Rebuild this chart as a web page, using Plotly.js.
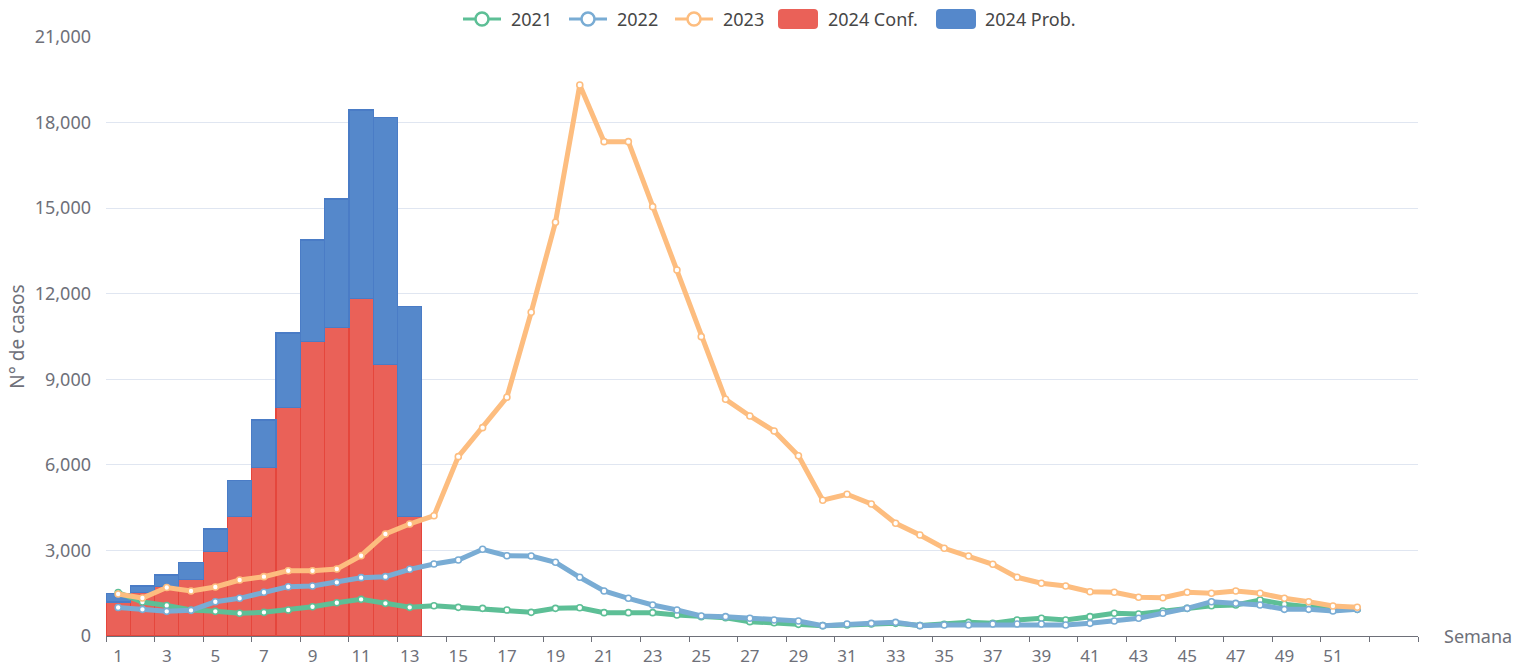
<!DOCTYPE html>
<html>
<head>
<meta charset="utf-8">
<script src="https://cdn.plot.ly/plotly-3.0.1.min.js"></script>
<style>html,body{margin:0;padding:0;background:#fff;}#chart{width:1522px;height:669px;}</style>
</head>
<body>
<div id="chart"></div>
<script>
// ---- data ----
const weeks = Array.from({length: 52}, (_, i) => i + 1);
const barWeeks = [1,2,3,4,5,6,7,8,9,10,11,12,13];
const conf2024 = [1190,1530,1730,1990,2960,4180,5920,8010,10320,10810,11820,9530,4180];
const prob2024 = [310,220,410,590,790,1270,1650,2610,3560,4510,6620,8640,7370];
const cases2021 = [1520,1190,1070,912,865,795,830,912,1028,1168,
                   1285,1145,1005,1063,1005,970,912,830,970,993,
                   818,818,818,736,678,643,503,467,409,362,
                   386,421,444,370,409,479,444,561,620,561,
                   678,795,771,877,970,1063,1087,1262,1111,1028,935,935];
const cases2022 = [1000,935,865,900,1200,1321,1532,1729,1753,1881,
                   2045,2080,2338,2524,2665,3039,2816,2805,2584,2058,
                   1578,1321,1087,912,701,678,620,561,526,362,
                   421,444,479,362,386,386,421,421,421,386,
                   444,526,620,795,970,1203,1145,1087,935,935,877,935];
const cases2023 = [1473,1330,1700,1578,1720,1963,2080,2290,2290,2349,
                   2816,3576,3927,4218,6287,7304,8368,11349,14504,19318,
                   17331,17331,15052,12832,10494,8298,7713,7187,6321,4760,
                   4968,4628,3951,3541,3075,2805,2514,2058,1848,1753,
                   1553,1532,1357,1343,1532,1497,1578,1497,1322,1203,1052,1006];
const xTickLabels = [1,3,5,7,9,11,13,15,17,19,21,23,25,27,29,31,33,35,37,39,41,43,45,47,49,51];
const xBoundaries = Array.from({length: 28}, (_, i) => 0.5 + 2 * i);
const seriesNames = ['2021', '2022', '2023', '2024 Conf.', '2024 Prob.'];
const seriesColors = ['#5dbf96', '#79acd4', '#fdbd7f', '#ea6158', '#5588cb'];

const FONT = '"Noto Sans", "DejaVu Sans", sans-serif';
const GRAY = '#6E7079';

// plot-area geometry (pixels) used for the hand-made legend
const W = 1522, H = 669, M = {l: 106, r: 104, t: 37, b: 33};
const PW = W - M.l - M.r, PH = H - M.t - M.b;
const px = v => (v - M.l) / PW;
const py = v => (H - M.b - v) / PH;

function lineTrace(i, y) {
  const c = seriesColors[i];
  return {
    type: 'scatter', mode: 'lines+markers', name: seriesNames[i], x: weeks, y: y,
    line: {color: c, width: 5},
    marker: {size: 6, color: '#ffffff', line: {color: c, width: 1.6}},
    hoverinfo: 'skip', showlegend: false
  };
}

const traces = [
  lineTrace(0, cases2021),
  lineTrace(1, cases2022),
  lineTrace(2, cases2023),
  {type: 'bar', name: seriesNames[3], x: barWeeks, y: conf2024, showlegend: false,
   marker: {color: seriesColors[3], line: {color: '#e5463c', width: 1.2}}, hoverinfo: 'skip'},
  {type: 'bar', name: seriesNames[4], x: barWeeks, y: prob2024, showlegend: false,
   marker: {color: seriesColors[4], line: {color: '#4a7cc6', width: 1.2}}, hoverinfo: 'skip'}
];

// ---- legend (top centre) ----
const LY = 19;
const legendItems = [
  {kind: 'line', sx: 463, tx: 509},
  {kind: 'line', sx: 569, tx: 615},
  {kind: 'line', sx: 675, tx: 721},
  {kind: 'rect', sx: 778, tx: 826},
  {kind: 'rect', sx: 936, tx: 983}
];
const shapes = [];
const annotations = [];
legendItems.forEach((it, i) => {
  const c = seriesColors[i];
  if (it.kind === 'line') {
    shapes.push({type: 'line', xref: 'paper', yref: 'paper',
      x0: px(it.sx), x1: px(it.sx + 38), y0: py(LY), y1: py(LY),
      line: {color: c, width: 3}});
    const cx = it.sx + 19, r = 6.5;
    shapes.push({type: 'circle', xref: 'paper', yref: 'paper',
      x0: px(cx - r), x1: px(cx + r), y0: py(LY + r), y1: py(LY - r),
      fillcolor: '#ffffff', line: {color: c, width: 2.5}});
  } else {
    const x0 = it.sx, x1 = it.sx + 40, y0 = LY - 10, y1 = LY + 10, rr = 4;
    const P = (a, b) => px(a) + ',' + py(b);
    const path = 'M' + P(x0 + rr, y0) + ' L' + P(x1 - rr, y0) + ' Q' + P(x1, y0) + ' ' + P(x1, y0 + rr) +
      ' L' + P(x1, y1 - rr) + ' Q' + P(x1, y1) + ' ' + P(x1 - rr, y1) +
      ' L' + P(x0 + rr, y1) + ' Q' + P(x0, y1) + ' ' + P(x0, y1 - rr) +
      ' L' + P(x0, y0 + rr) + ' Q' + P(x0, y0) + ' ' + P(x0 + rr, y0) + ' Z';
    shapes.push({type: 'path', xref: 'paper', yref: 'paper', path: path,
      fillcolor: c, line: {width: 0}});
  }
  annotations.push({text: seriesNames[i], xref: 'paper', yref: 'paper',
    x: px(it.tx), y: py(LY), xanchor: 'left', yanchor: 'middle', showarrow: false,
    font: {size: 18, color: '#464646', family: FONT}});
});
annotations.push({
  text: 'Semana', xref: 'paper', yref: 'paper', x: px(1442), y: 0, xanchor: 'left', yanchor: 'middle',
  showarrow: false, font: {size: 18, color: GRAY, family: FONT}
});

const layout = {
  width: W, height: H,
  margin: {l: M.l, r: M.r, t: M.t, b: M.b, autoexpand: false},
  paper_bgcolor: '#ffffff', plot_bgcolor: '#ffffff',
  font: {family: FONT, color: GRAY},
  barmode: 'stack', bargap: 0,
  showlegend: false,
  xaxis: {
    range: [0.5, 54.5], tickmode: 'array', tickvals: xTickLabels, ticktext: xTickLabels.map(String),
    ticks: '', showgrid: false, zeroline: false, showline: true, linecolor: GRAY, linewidth: 1,
    tickfont: {size: 17, color: GRAY, family: FONT}, ticklabelstandoff: 5,
    minor: {tickmode: 'array', tickvals: xBoundaries, ticks: 'outside', ticklen: 5,
            tickcolor: GRAY, tickwidth: 1, showgrid: false},
    fixedrange: true
  },
  yaxis: {
    range: [0, 21000], tickmode: 'linear', tick0: 0, dtick: 3000, tickformat: ',',
    showgrid: true, gridcolor: '#E0E6F1', gridwidth: 1, zeroline: false, showline: false, ticks: '',
    tickfont: {size: 18, color: GRAY, family: FONT}, ticklabelstandoff: 14,
    title: {text: 'N° de casos', font: {size: 19, color: GRAY, family: FONT}, standoff: 5},
    fixedrange: true
  },
  shapes: shapes,
  annotations: annotations
};

Plotly.newPlot('chart', traces, layout, {displayModeBar: false, staticPlot: true});
</script>
</body>
</html>
